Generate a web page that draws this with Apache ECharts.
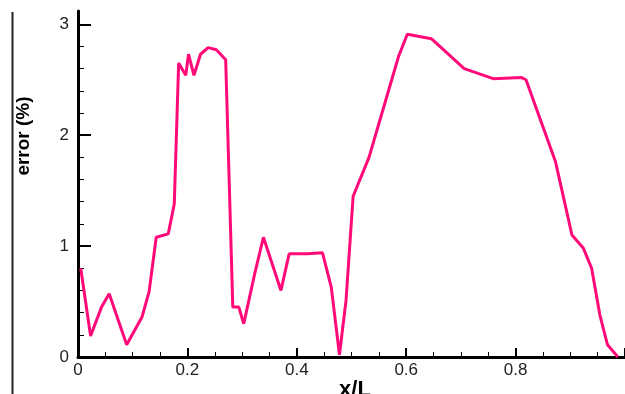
<!DOCTYPE html>
<html>
<head>
<meta charset="utf-8">
<script src="https://cdn.jsdelivr.net/npm/echarts@6/dist/echarts.min.js"></script>
<style>
  html, body { margin: 0; padding: 0; background: #fff; }
  #chart { width: 625px; height: 394px; }
</style>
</head>
<body>
<div id="chart"></div>
<script>
// x/L positions along the span
const xPos = [0.005, 0.023, 0.043, 0.057, 0.089, 0.117, 0.130, 0.143, 0.165, 0.176,
  0.184, 0.197, 0.202, 0.212, 0.224, 0.238, 0.253, 0.270, 0.283, 0.294,
  0.303, 0.323, 0.339, 0.371, 0.386, 0.419, 0.447, 0.463, 0.478, 0.490,
  0.503, 0.532, 0.586, 0.602, 0.646, 0.706, 0.759, 0.811, 0.819, 0.873,
  0.903, 0.924, 0.939, 0.954, 0.968, 0.987];
// error (%) at each position
const errPct = [0.80, 0.19, 0.45, 0.57, 0.11, 0.36, 0.59, 1.08, 1.11, 1.38,
  2.65, 2.54, 2.73, 2.54, 2.73, 2.79, 2.77, 2.68, 0.45, 0.45,
  0.30, 0.75, 1.08, 0.60, 0.93, 0.93, 0.94, 0.63, 0.02, 0.51,
  1.45, 1.80, 2.71, 2.91, 2.87, 2.60, 2.51, 2.52, 2.50, 1.76,
  1.10, 0.98, 0.80, 0.38, 0.11, 0.00];

const xLabels = [0, 0.2, 0.4, 0.6, 0.8];
const yMajor = [0, 1, 2, 3];
const yMinor = [0.2, 0.4, 0.6, 0.8, 1.2, 1.4, 1.6, 1.8, 2.2, 2.4, 2.6, 2.8];

const font = 'Liberation Sans, Arial, sans-serif';
const chart = echarts.init(document.getElementById('chart'));

chart.setOption({
  animation: false,
  grid: { left: 78, top: 11, width: 554, bottom: 37 },
  xAxis: {
    type: 'value', min: 0, max: 1, interval: 0.2,
    axisLine: { lineStyle: { color: '#000', width: 3 } },
    axisTick: { inside: true, length: 9, lineStyle: { color: '#000', width: 2 } },
    minorTick: { show: true, splitNumber: 4, length: 5, lineStyle: { color: '#000', width: 1 } },
    splitLine: { show: false },
    axisLabel: {
      customValues: xLabels, margin: 5, color: '#222', fontSize: 17, fontFamily: font,
      formatter: v => String(v)
    }
  },
  yAxis: [{
    type: 'value', min: 0, max: 3.12,
    axisLine: { show: true, lineStyle: { color: '#000', width: 3 } },
    axisTick: { show: true, inside: true, length: 13, customValues: yMajor, lineStyle: { color: '#000', width: 2 } },
    splitLine: { show: false },
    axisLabel: { customValues: yMajor, margin: 9, color: '#222', fontSize: 17, fontFamily: font }
  }, {
    type: 'value', min: 0, max: 3.12, position: 'left',
    axisLine: { show: false },
    axisTick: { show: true, inside: true, length: 6, customValues: yMinor, lineStyle: { color: '#000', width: 1 } },
    splitLine: { show: false },
    axisLabel: { show: false }
  }],
  graphic: [
    { type: 'line', shape: { x1: 12.5, y1: 12, x2: 12.5, y2: 394 }, style: { stroke: '#222', lineWidth: 2 } },
    { type: 'text', x: 24, y: 136, rotation: Math.PI / 2,
      style: { text: 'error (%)', font: 'bold 19px ' + font, fill: '#000', align: 'center', verticalAlign: 'middle' } },
    { type: 'text', x: 355, y: 390,
      style: { text: 'x/L', font: 'bold 22px ' + font, fill: '#000', align: 'center', verticalAlign: 'middle' } }
  ],
  series: [{
    type: 'line',
    data: xPos.map((x, i) => [x, errPct[i]]),
    showSymbol: false,
    lineStyle: { color: '#ff0a78', width: 3 },
    itemStyle: { color: '#ff0a78' }
  }]
});
</script>
</body>
</html>
